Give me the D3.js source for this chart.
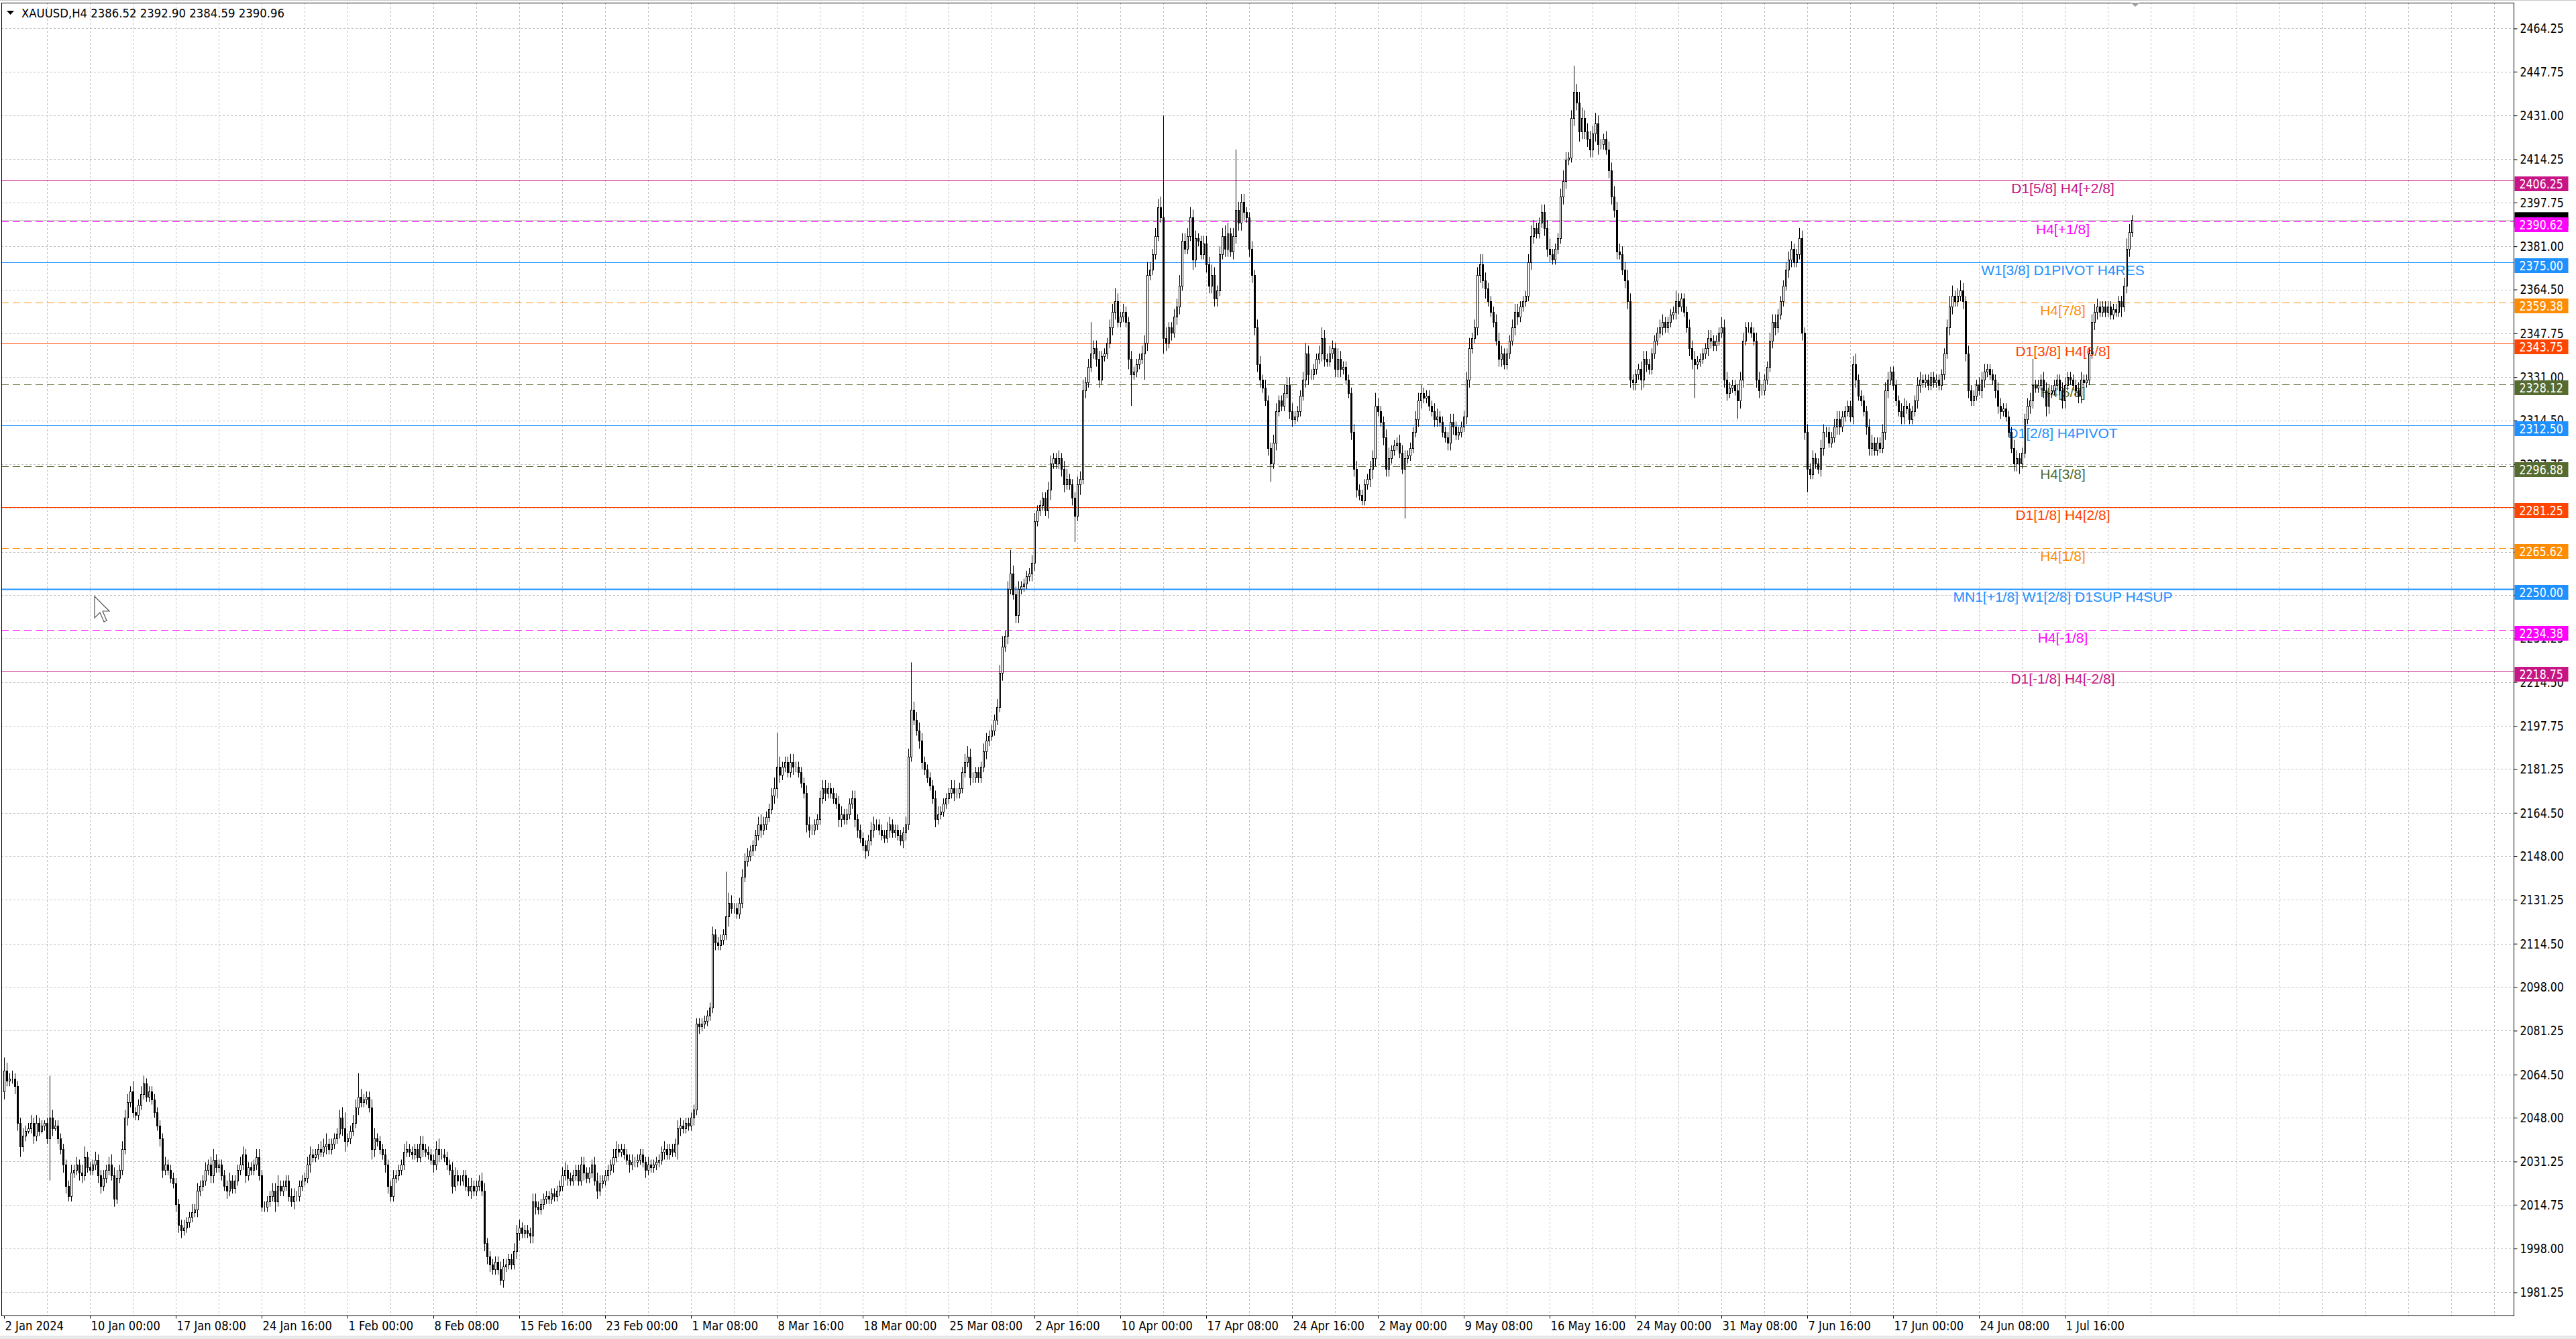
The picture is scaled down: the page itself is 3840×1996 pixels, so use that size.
<!DOCTYPE html>
<html>
<head>
<meta charset="utf-8">
<script src="https://cdn.jsdelivr.net/npm/d3@7"></script>
<style>
  html, body { margin: 0; padding: 0; background: #fff; overflow: hidden; }
  svg { display: block; }
</style>
</head>
<body>
<script>
// XAUUSD H4, 2 Jan 2024 16:00 .. 5 Jul 2024 20:00, one line per trading day
const firstOpen = 2058;
const closes = [
  2066, 2062,
  2063, 2063, 2060, 2046, 2037, 2041,
  2043, 2044, 2046, 2041, 2046, 2043,
  2045, 2046, 2040, 2048, 2044, 2045,
  2040, 2036, 2030, 2022, 2018, 2027,
  2028, 2030, 2027, 2026, 2033, 2029,
  2028, 2030, 2032, 2026, 2022, 2025,
  2028, 2030, 2026, 2017, 2025, 2028,
  2036, 2048, 2054, 2058, 2050, 2049,
  2053, 2057, 2061, 2056, 2058, 2055,
  2050, 2045, 2040, 2028, 2030, 2028,
  2025, 2023, 2015, 2007, 2005, 2006,
  2008, 2010, 2012, 2013, 2020, 2022,
  2024, 2028, 2030, 2026, 2032, 2029,
  2030, 2026, 2022, 2020, 2024, 2021,
  2024, 2028, 2030, 2034, 2026, 2029,
  2028, 2030, 2033, 2026, 2014, 2014,
  2016, 2018, 2020, 2016, 2022, 2020,
  2022, 2024, 2018, 2016, 2018, 2018,
  2022, 2024, 2025, 2030, 2034, 2033,
  2034, 2036, 2035, 2037, 2038, 2036,
  2038, 2040, 2042, 2048, 2044, 2039,
  2040, 2043, 2046, 2052, 2056, 2054,
  2055, 2056, 2052, 2036, 2040, 2039,
  2036, 2034, 2030, 2022, 2018, 2025,
  2026, 2028, 2030, 2035, 2036, 2035,
  2034, 2036, 2033, 2038, 2036, 2035,
  2034, 2032, 2030, 2036, 2034, 2034,
  2033, 2030, 2028, 2022, 2026, 2024,
  2024, 2026, 2022, 2020, 2022, 2020,
  2022, 2024, 2020, 2000, 1995, 1992,
  1990, 1993, 1990, 1986, 1991, 1992,
  1994, 1992, 1997, 2004, 2006, 2004,
  2005, 2004, 2003, 2016, 2014, 2013,
  2015, 2017, 2018, 2017, 2019, 2018,
  2020, 2022, 2026, 2028, 2025, 2024,
  2026, 2028, 2024, 2030, 2027, 2025,
  2027, 2030, 2024, 2020, 2023, 2024,
  2026, 2028, 2030, 2033, 2036, 2035,
  2036, 2034, 2032, 2030, 2031, 2031,
  2032, 2034, 2031, 2028, 2030, 2029,
  2030, 2031, 2032, 2035, 2036, 2034,
  2036, 2035, 2038, 2044, 2045, 2044,
  2046, 2045, 2048, 2051, 2084, 2083,
  2084, 2085, 2087, 2090, 2118, 2115,
  2114, 2116, 2118, 2125, 2130, 2128,
  2128, 2126, 2130, 2140, 2146, 2148,
  2150, 2152, 2156, 2160, 2158, 2160,
  2163, 2166, 2171, 2174, 2182, 2179,
  2182, 2184, 2180, 2184, 2182, 2182,
  2180, 2176, 2172, 2160, 2158, 2158,
  2160, 2162, 2170, 2174, 2172, 2174,
  2172, 2170, 2168, 2162, 2164, 2162,
  2164, 2168, 2170, 2162, 2158, 2155,
  2152, 2150, 2154, 2158, 2160, 2160,
  2158, 2156, 2155, 2158, 2160, 2157,
  2158, 2156, 2154, 2157, 2160, 2186,
  2204, 2200, 2196, 2192, 2184, 2181,
  2178, 2175, 2170, 2162, 2164, 2165,
  2168, 2170, 2172, 2174, 2172, 2172,
  2174, 2180, 2184, 2186, 2178, 2178,
  2180, 2178, 2182, 2188, 2192, 2194,
  2196, 2200, 2205, 2218, 2228, 2232,
  2250, 2256, 2248, 2240, 2250, 2251,
  2252, 2255, 2256, 2260, 2276, 2280,
  2282, 2285, 2280, 2288, 2298, 2300,
  2298, 2300, 2296, 2290, 2292, 2290,
  2285, 2278, 2290, 2292, 2326, 2329,
  2335, 2340, 2342, 2338, 2330, 2339,
  2340, 2344, 2350, 2356, 2360, 2352,
  2354, 2356, 2352, 2338, 2332, 2333,
  2336, 2338, 2340, 2344, 2370, 2372,
  2378, 2385, 2396, 2392, 2346, 2344,
  2350, 2348, 2354, 2358, 2366, 2383,
  2380, 2385, 2392, 2376, 2384, 2383,
  2378, 2382, 2374, 2366, 2370, 2361,
  2364, 2378, 2385, 2380, 2386, 2379,
  2385, 2395, 2390, 2398, 2394, 2392,
  2380, 2370, 2350, 2336, 2330, 2327,
  2322, 2304, 2298, 2306, 2318, 2322,
  2320, 2325, 2328, 2318, 2315, 2316,
  2318, 2324, 2330, 2340, 2332, 2332,
  2334, 2338, 2340, 2346, 2338, 2337,
  2340, 2342, 2334, 2338, 2334, 2335,
  2330, 2325, 2310, 2296, 2288, 2286,
  2284, 2290, 2292, 2296, 2300, 2320,
  2318, 2314, 2308, 2296, 2300, 2303,
  2305, 2306, 2302, 2296, 2300, 2301,
  2304, 2310, 2315, 2322, 2325, 2323,
  2324, 2320, 2318, 2315, 2316, 2314,
  2310, 2308, 2306, 2314, 2312, 2309,
  2310, 2312, 2316, 2330, 2342, 2346,
  2350, 2370, 2374, 2368, 2365, 2360,
  2356, 2352, 2345, 2338, 2340, 2336,
  2340, 2345, 2350, 2356, 2354, 2358,
  2360, 2362, 2375, 2385, 2388, 2386,
  2390, 2394, 2388, 2380, 2378, 2376,
  2380, 2384, 2400, 2406, 2414, 2415,
  2430, 2440, 2436, 2425, 2430, 2425,
  2422, 2418, 2424, 2428, 2420, 2420,
  2422, 2418, 2410, 2400, 2395, 2379,
  2378, 2372, 2368, 2360, 2330, 2329,
  2332, 2334, 2330, 2338, 2336, 2334,
  2340, 2345, 2348, 2350, 2352, 2350,
  2352, 2355, 2356, 2360, 2358, 2361,
  2356, 2350, 2342, 2338, 2336, 2337,
  2338, 2340, 2342, 2346, 2345, 2343,
  2345, 2348, 2350, 2330, 2325, 2327,
  2328, 2326, 2322, 2330, 2345, 2350,
  2350, 2348, 2345, 2330, 2326, 2326,
  2330, 2335, 2345, 2352, 2350, 2355,
  2360, 2366, 2372, 2376, 2380, 2375,
  2378, 2384, 2348, 2310, 2296, 2294,
  2300, 2298, 2296, 2304, 2310, 2310,
  2306, 2308, 2312, 2315, 2312, 2316,
  2318, 2320, 2316, 2336, 2330, 2324,
  2322, 2318, 2312, 2304, 2306, 2303,
  2306, 2304, 2310, 2326, 2330, 2333,
  2328, 2322, 2318, 2316, 2320, 2319,
  2315, 2318, 2322, 2328, 2330, 2329,
  2330, 2328, 2331, 2329, 2330, 2328,
  2332, 2340, 2350, 2358, 2362, 2360,
  2362, 2364, 2360, 2340, 2326, 2322,
  2324, 2328, 2326, 2330, 2333, 2334,
  2332, 2330, 2326, 2320, 2318, 2319,
  2316, 2310, 2304, 2298, 2300, 2298,
  2302, 2315, 2320, 2322, 2328, 2327,
  2328, 2330, 2326, 2320, 2325, 2326,
  2328, 2330, 2326, 2322, 2328, 2331,
  2330, 2328, 2326, 2324, 2330, 2329,
  2330, 2340, 2352, 2356, 2358, 2356,
  2358, 2356, 2358, 2355, 2357, 2356,
  2360, 2358, 2366, 2380, 2386.52, 2390.96
];
// wick above the body top, same order
const upperWicks = [
  5, 3,
  2, 3, 2, 2, 2, 3,
  2, 2, 3, 2, 3, 2,
  2, 1, 2, 16, 3, 2,
  2, 2, 2, 2, 2, 3,
  2, 3, 2, 3, 4, 2,
  2, 2, 3, 2, 2, 3,
  2, 3, 4, 3, 3, 2,
  3, 3, 3, 2, 4, 2,
  2, 3, 3, 2, 2, 2,
  2, 2, 2, 2, 3, 2,
  2, 2, 2, 2, 2, 3,
  2, 2, 3, 2, 3, 2,
  2, 3, 2, 3, 4, 2,
  2, 2, 2, 2, 3, 2,
  2, 2, 3, 3, 2, 2,
  2, 2, 3, 3, 2, 2,
  2, 2, 3, 3, 4, 2,
  2, 2, 2, 3, 3, 2,
  2, 2, 2, 3, 3, 2,
  2, 2, 3, 3, 4, 2,
  2, 2, 2, 3, 4, 6,
  2, 2, 3, 3, 9, 3,
  2, 2, 2, 3, 4, 2,
  2, 2, 2, 2, 2, 3,
  2, 2, 2, 3, 3, 2,
  2, 2, 2, 3, 3, 2,
  2, 2, 2, 3, 4, 2,
  2, 2, 2, 3, 3, 2,
  2, 2, 2, 3, 3, 2,
  2, 2, 3, 3, 2, 2,
  2, 2, 2, 3, 3, 2,
  2, 2, 3, 3, 3, 2,
  2, 2, 2, 3, 3, 2,
  2, 2, 2, 2, 2, 2,
  2, 2, 3, 3, 2, 2,
  2, 2, 2, 3, 3, 2,
  2, 2, 3, 3, 3, 2,
  2, 2, 2, 3, 3, 2,
  2, 2, 2, 2, 3, 2,
  2, 2, 2, 2, 3, 2,
  2, 2, 2, 2, 3, 2,
  2, 2, 2, 3, 3, 2,
  2, 2, 2, 2, 2, 2,
  2, 2, 2, 2, 3, 2,
  2, 2, 2, 17, 4, 3,
  2, 2, 2, 3, 3, 3,
  2, 2, 2, 3, 4, 3,
  2, 2, 3, 4, 13, 4,
  2, 2, 2, 3, 3, 2,
  2, 2, 2, 3, 3, 2,
  2, 2, 3, 3, 3, 2,
  2, 2, 2, 3, 3, 2,
  2, 2, 3, 3, 2, 2,
  2, 2, 2, 3, 3, 2,
  2, 2, 2, 3, 3, 2,
  2, 2, 2, 2, 3, 3,
  18, 3, 3, 3, 3, 2,
  2, 2, 2, 3, 3, 2,
  2, 2, 2, 3, 3, 2,
  2, 2, 3, 4, 3, 2,
  2, 2, 2, 3, 3, 2,
  2, 2, 3, 3, 4, 2,
  3, 9, 3, 3, 3, 2,
  2, 2, 2, 3, 3, 2,
  2, 2, 2, 3, 3, 2,
  2, 3, 2, 3, 4, 2,
  2, 2, 3, 3, 4, 2,
  3, 12, 3, 3, 3, 2,
  2, 2, 3, 3, 5, 3,
  2, 3, 2, 2, 3, 2,
  2, 2, 3, 3, 5, 3,
  2, 3, 3, 4, 39, 4,
  2, 2, 3, 3, 4, 3,
  3, 3, 4, 3, 3, 2,
  2, 3, 3, 3, 4, 3,
  2, 3, 3, 4, 4, 2,
  3, 23, 3, 3, 3, 2,
  2, 3, 2, 3, 3, 2,
  3, 2, 2, 3, 3, 2,
  2, 3, 3, 3, 3, 2,
  2, 2, 3, 4, 3, 2,
  2, 2, 3, 4, 3, 2,
  3, 3, 2, 4, 3, 2,
  2, 2, 2, 3, 3, 2,
  2, 2, 2, 3, 3, 5,
  3, 2, 2, 3, 4, 2,
  2, 2, 3, 3, 3, 2,
  2, 2, 3, 3, 3, 2,
  2, 2, 2, 3, 3, 2,
  2, 2, 2, 3, 3, 2,
  2, 2, 2, 3, 4, 2,
  3, 3, 4, 4, 3, 2,
  2, 2, 3, 3, 3, 2,
  2, 2, 3, 3, 3, 2,
  2, 2, 3, 4, 3, 2,
  2, 3, 3, 3, 4, 2,
  2, 2, 3, 4, 3, 2,
  3, 10, 3, 4, 4, 3,
  3, 3, 3, 4, 3, 2,
  2, 3, 3, 3, 4, 3,
  3, 3, 3, 4, 3, 2,
  2, 2, 3, 3, 3, 2,
  2, 2, 2, 3, 3, 2,
  2, 2, 2, 4, 3, 2,
  2, 2, 3, 3, 3, 2,
  2, 2, 2, 3, 3, 2,
  2, 2, 4, 3, 3, 2,
  2, 2, 2, 3, 3, 2,
  2, 2, 2, 3, 3, 2,
  2, 2, 3, 3, 3, 2,
  2, 2, 3, 3, 3, 2,
  2, 4, 3, 2, 3, 2,
  3, 2, 2, 3, 3, 2,
  2, 2, 3, 3, 3, 2,
  2, 2, 2, 3, 4, 2,
  2, 2, 2, 3, 3, 2,
  2, 2, 3, 3, 3, 2,
  2, 2, 2, 3, 3, 2,
  2, 2, 2, 3, 3, 2,
  2, 2, 2, 2, 2, 2,
  2, 2, 3, 4, 4, 2,
  3, 4, 3, 2, 3, 2,
  2, 2, 3, 3, 3, 2,
  2, 2, 2, 3, 3, 2,
  2, 2, 2, 3, 3, 2,
  2, 2, 3, 3, 10, 2,
  2, 2, 3, 3, 3, 2,
  2, 2, 2, 3, 3, 2,
  2, 2, 2, 3, 3, 2,
  2, 2, 3, 3, 3, 2,
  2, 2, 2, 2, 2, 2,
  2, 2, 3, 4, 3, 1.94
];
// wick below the body bottom, same order
const lowerWicks = [
  3, 2,
  2, 2, 3, 3, 4, 2,
  2, 1, 2, 3, 2, 2,
  1, 2, 2, 16, 3, 1,
  2, 2, 3, 3, 2, 2,
  2, 2, 3, 3, 2, 2,
  2, 2, 2, 3, 3, 2,
  2, 2, 2, 3, 2, 2,
  2, 2, 3, 2, 2, 2,
  2, 2, 2, 2, 2, 2,
  2, 2, 3, 3, 2, 2,
  2, 2, 3, 3, 3, 2,
  2, 2, 2, 2, 3, 2,
  2, 2, 2, 3, 3, 2,
  2, 2, 2, 3, 2, 2,
  2, 2, 2, 2, 3, 2,
  2, 2, 2, 2, 2, 2,
  2, 2, 2, 4, 2, 2,
  2, 2, 2, 2, 3, 2,
  2, 2, 2, 2, 3, 2,
  2, 2, 2, 2, 3, 2,
  2, 2, 2, 2, 3, 4,
  2, 2, 2, 2, 3, 2,
  2, 2, 2, 4, 3, 2,
  2, 2, 3, 3, 2, 2,
  2, 2, 2, 2, 2, 2,
  2, 2, 2, 2, 3, 2,
  2, 2, 3, 2, 3, 2,
  2, 2, 2, 3, 2, 2,
  2, 2, 2, 2, 3, 2,
  2, 2, 2, 3, 3, 3,
  2, 2, 2, 2, 3, 2,
  2, 2, 2, 3, 3, 2,
  2, 2, 3, 3, 3, 2,
  2, 2, 2, 2, 2, 2,
  2, 2, 2, 2, 3, 2,
  2, 2, 2, 2, 3, 2,
  2, 2, 2, 3, 2, 2,
  2, 2, 2, 3, 2, 2,
  2, 2, 2, 3, 2, 2,
  2, 2, 2, 3, 2, 2,
  2, 2, 2, 2, 3, 2,
  2, 2, 2, 6, 3, 2,
  2, 2, 2, 3, 2, 3,
  2, 2, 2, 2, 2, 3,
  2, 2, 2, 2, 4, 2,
  2, 2, 2, 2, 2, 2,
  2, 2, 2, 2, 3, 2,
  2, 2, 2, 3, 4, 3,
  2, 2, 2, 2, 3, 2,
  2, 2, 2, 3, 3, 2,
  2, 2, 2, 2, 3, 2,
  2, 2, 2, 3, 3, 2,
  2, 2, 2, 3, 3, 2,
  2, 3, 2, 2, 3, 2,
  2, 2, 2, 2, 3, 2,
  2, 2, 2, 3, 3, 2,
  2, 2, 2, 3, 3, 2,
  2, 2, 2, 3, 2, 2,
  2, 2, 2, 2, 3, 2,
  2, 2, 2, 2, 3, 2,
  2, 2, 2, 2, 3, 2,
  2, 2, 2, 2, 3, 2,
  3, 2, 2, 3, 3, 2,
  2, 2, 2, 3, 3, 2,
  2, 2, 2, 3, 4, 2,
  2, 2, 3, 3, 2, 2,
  3, 10, 2, 4, 2, 3,
  2, 2, 2, 3, 3, 2,
  2, 2, 2, 3, 3, 2,
  2, 2, 2, 4, 12, 2,
  2, 2, 2, 10, 3, 2,
  2, 2, 2, 2, 6, 3,
  2, 3, 2, 3, 3, 2,
  2, 2, 2, 4, 3, 2,
  2, 2, 3, 3, 3, 3,
  3, 2, 2, 3, 3, 2,
  3, 3, 3, 3, 3, 2,
  3, 3, 3, 3, 3, 2,
  2, 3, 7, 2, 3, 2,
  2, 2, 2, 3, 3, 2,
  2, 2, 2, 3, 4, 2,
  2, 2, 2, 3, 3, 2,
  2, 2, 3, 3, 3, 2,
  2, 2, 3, 3, 3, 2,
  2, 2, 2, 3, 4, 3,
  2, 2, 3, 3, 3, 2,
  2, 2, 2, 2, 19, 2,
  2, 2, 2, 3, 3, 2,
  2, 2, 2, 3, 3, 2,
  2, 2, 3, 3, 3, 2,
  2, 2, 2, 3, 3, 2,
  2, 3, 3, 3, 4, 2,
  2, 2, 2, 3, 3, 2,
  2, 2, 2, 3, 3, 2,
  2, 2, 2, 3, 3, 2,
  2, 2, 3, 3, 3, 2,
  2, 2, 2, 3, 3, 2,
  2, 3, 3, 4, 3, 3,
  3, 3, 3, 3, 4, 2,
  2, 2, 3, 3, 3, 3,
  2, 2, 3, 3, 3, 3,
  3, 2, 4, 3, 3, 2,
  2, 2, 2, 2, 3, 2,
  2, 2, 2, 3, 3, 2,
  2, 2, 3, 4, 13, 2,
  2, 2, 2, 3, 3, 2,
  2, 2, 2, 3, 3, 2,
  2, 2, 7, 3, 3, 2,
  2, 2, 2, 3, 3, 2,
  2, 2, 2, 3, 3, 2,
  2, 2, 2, 3, 3, 2,
  2, 2, 3, 3, 9, 2,
  2, 2, 2, 3, 3, 2,
  2, 2, 2, 3, 3, 2,
  2, 2, 2, 3, 3, 2,
  2, 2, 3, 3, 3, 2,
  2, 2, 2, 3, 3, 2,
  2, 2, 2, 3, 3, 2,
  2, 2, 2, 3, 3, 2,
  2, 2, 2, 2, 2, 2,
  2, 2, 2, 3, 3, 2,
  2, 2, 3, 3, 3, 2,
  2, 2, 2, 3, 3, 2,
  2, 2, 3, 3, 3, 2,
  2, 2, 2, 3, 3, 4,
  2, 2, 2, 3, 3, 2,
  2, 2, 3, 4, 3, 2,
  2, 2, 2, 3, 3, 2,
  2, 2, 2, 3, 3, 2,
  2, 2, 2, 3, 3, 2,
  2, 2, 2, 2, 2, 2,
  2, 4, 2, 3, 3, 1.93
];

const priceTicks = [2464.25, 2447.75, 2431.00, 2414.25, 2397.75, 2381.00, 2364.50, 2347.75,
  2331.00, 2314.50, 2297.75, 2281.00, 2264.25, 2247.75, 2231.25, 2214.50, 2197.75, 2181.25,
  2164.50, 2148.00, 2131.25, 2114.50, 2098.00, 2081.25, 2064.50, 2048.00, 2031.25, 2014.75,
  1998.00, 1981.25];

const timeLabels = ['2 Jan 2024', '10 Jan 00:00', '17 Jan 08:00', '24 Jan 16:00', '1 Feb 00:00',
  '8 Feb 08:00', '15 Feb 16:00', '23 Feb 00:00', '1 Mar 08:00', '8 Mar 16:00', '18 Mar 00:00',
  '25 Mar 08:00', '2 Apr 16:00', '10 Apr 00:00', '17 Apr 08:00', '24 Apr 16:00', '2 May 00:00',
  '9 May 08:00', '16 May 16:00', '24 May 00:00', '31 May 08:00', '7 Jun 16:00', '17 Jun 00:00',
  '24 Jun 08:00', '1 Jul 16:00'];
const barsPerLabel = 32;

const levelPrices = [2406.25, 2390.62, 2375.00, 2359.38, 2343.75, 2328.12, 2312.50,
  2296.88, 2281.25, 2265.62, 2250.00, 2234.38, 2218.75];
const levelLabels = ['D1[5/8] H4[+2/8]', 'H4[+1/8]', 'W1[3/8] D1PIVOT H4RES', 'H4[7/8]',
  'D1[3/8] H4[6/8]', 'H4[5/8]', 'D1[2/8] H4PIVOT', 'H4[3/8]', 'D1[1/8] H4[2/8]', 'H4[1/8]',
  'MN1[+1/8] W1[2/8] D1SUP H4SUP', 'H4[-1/8]', 'D1[-1/8] H4[-2/8]'];
const bidPrice = 2390.96;
const header = 'XAUUSD,H4  2386.52 2392.90 2384.59 2390.96';

// styles
const levelColors = ['#C71585', '#FF00FF', '#1E90FF', '#FF8C00', '#FF4500', '#556B2F', '#1E90FF',
  '#556B2F', '#FF4500', '#FF8C00', '#1E90FF', '#FF00FF', '#C71585'];
const levelDashed = [false, true, false, true, false, true, false, true, false, true, false, true, false];
const levelWidth = [1, 1, 1, 1, 1, 1, 1, 1, 1, 1, 2, 1, 1];

const W = 3840, H = 1996;
const plot = {left: 2, top: 4, right: 3747, bottom: 1961};

const svg = d3.select('body').append('svg')
  .attr('width', W).attr('height', H)
  .style('font-family', '"DejaVu Sans", sans-serif');

const y = d3.scaleLinear().domain([1972.4, 2474.1]).range([plot.bottom, plot.top]);
const x = d3.scaleLinear().domain([0, 1]).range([6, 10]);
const px = v => Math.round(v) + 0.5;

const bars = closes.map((c, i) => {
  const o = i ? closes[i - 1] : firstOpen;
  return {i, o, c, h: Math.max(o, c) + upperWicks[i], l: Math.min(o, c) - lowerWicks[i]};
});

svg.append('rect').attr('width', W).attr('height', H).attr('fill', '#fff');
svg.append('line').attr('x1', 0).attr('x2', W).attr('y1', 0.5).attr('y2', 0.5).attr('stroke', '#c8c8c8');
svg.append('rect').attr('x', 0).attr('y', 1991).attr('width', W).attr('height', 5).attr('fill', '#e8e8e8');

svg.append('defs').append('clipPath').attr('id', 'clip')
  .append('rect').attr('x', plot.left).attr('y', plot.top)
  .attr('width', plot.right - plot.left).attr('height', plot.bottom - plot.top);

const inner = svg.append('g').attr('clip-path', 'url(#clip)');

// grid
const lastGridBar = Math.floor(x.invert(plot.right));
inner.append('g').selectAll('line').data(d3.range(16, lastGridBar + 1, 16)).join('line')
  .attr('x1', d => px(x(d))).attr('x2', d => px(x(d)))
  .attr('y1', plot.top).attr('y2', plot.bottom)
  .attr('stroke', '#c0c0c0').attr('stroke-dasharray', '3,3');
inner.append('g').selectAll('line').data(priceTicks).join('line')
  .attr('x1', plot.left).attr('x2', plot.right)
  .attr('y1', d => px(y(d))).attr('y2', d => px(y(d)))
  .attr('stroke', '#c0c0c0').attr('stroke-dasharray', '3,3');

// bid line
inner.append('line').attr('x1', plot.left).attr('x2', plot.right)
  .attr('y1', px(y(bidPrice))).attr('y2', px(y(bidPrice))).attr('stroke', '#c0c0c0');

// level lines + captions
inner.append('g').selectAll('line').data(levelPrices).join('line')
  .attr('x1', plot.left).attr('x2', plot.right)
  .attr('y1', d => px(y(d))).attr('y2', d => px(y(d)))
  .attr('stroke', (d, k) => levelColors[k])
  .attr('stroke-width', (d, k) => levelWidth[k])
  .attr('stroke-dasharray', (d, k) => levelDashed[k] ? '11,6' : null);

inner.append('g').selectAll('text').data(levelPrices).join('text')
  .attr('x', 3075).attr('y', d => y(d) + 19)
  .attr('text-anchor', 'middle')
  .style('font-family', '"Liberation Sans", Arial, sans-serif')
  .attr('font-size', 21)
  .attr('fill', (d, k) => levelColors[k])
  .text((d, k) => levelLabels[k]);

// candles
const cg = inner.append('g');
cg.selectAll('line').data(bars).join('line')
  .attr('x1', d => px(x(d.i))).attr('x2', d => px(x(d.i)))
  .attr('y1', d => y(d.h)).attr('y2', d => y(d.l))
  .attr('stroke', '#000');
cg.selectAll('rect').data(bars).join('rect')
  .attr('x', d => Math.round(x(d.i)) - 0.5)
  .attr('y', d => px(y(Math.max(d.o, d.c))))
  .attr('width', 2)
  .attr('height', d => Math.max(0, Math.round(y(Math.min(d.o, d.c))) - Math.round(y(Math.max(d.o, d.c)))))
  .attr('fill', d => d.c >= d.o ? '#fff' : '#000')
  .attr('stroke', '#000');

// frame
svg.append('rect').attr('x', plot.left + 0.5).attr('y', plot.top + 0.5)
  .attr('width', plot.right - plot.left).attr('height', plot.bottom - plot.top)
  .attr('fill', 'none').attr('stroke', '#000');

// right price axis
const yAxis = svg.append('g').attr('transform', `translate(${plot.right + 0.5},0)`)
  .call(d3.axisRight(y).tickValues(priceTicks).tickFormat(d3.format('.2f')).tickSize(5));
yAxis.select('.domain').remove();
yAxis.selectAll('.tick line').attr('stroke', '#000');
yAxis.selectAll('.tick text')
  .attr('font-family', '"DejaVu Sans", sans-serif').attr('font-size', 20)
  .attr('fill', '#000')
  .attr('x', 9 / 0.79).attr('transform', 'scale(0.79,1)');

// bottom time axis
const xAxis = svg.append('g').attr('transform', `translate(0,${plot.bottom + 0.5})`)
  .call(d3.axisBottom(x)
    .tickValues(timeLabels.map((t, k) => k * barsPerLabel))
    .tickFormat((d, k) => timeLabels[k]).tickSize(4));
xAxis.select('.domain').remove();
xAxis.selectAll('.tick line').attr('stroke', '#000');
xAxis.selectAll('.tick text')
  .attr('font-family', '"DejaVu Sans", sans-serif').attr('font-size', 19)
  .attr('fill', '#000').attr('text-anchor', 'start')
  .attr('y', 8).attr('dy', '0.71em')
  .attr('x', 1 / 0.86).attr('transform', 'scale(0.86,1)');

// price boxes on the axis
const boxX = plot.right + 1.5, boxW = 80, boxH = 22;
svg.append('rect').attr('x', boxX).attr('y', y(bidPrice) - 12).attr('width', boxW).attr('height', boxH).attr('fill', '#000');
const boxes = svg.append('g').selectAll('g').data(levelPrices).join('g')
  .attr('transform', d => `translate(${boxX},${Math.round(y(d)) - 6})`);
boxes.append('rect').attr('width', boxW).attr('height', boxH).attr('fill', (d, k) => levelColors[k]);
boxes.append('text')
  .attr('transform', 'scale(0.79,1)')
  .attr('x', 7 / 0.79).attr('y', boxH / 2).attr('dy', '0.36em')
  .attr('font-size', 20).attr('fill', '#fff')
  .text(d => d3.format('.2f')(d));

// header
svg.append('path').attr('d', 'M10,16 L21,16 L15.5,22 Z').attr('fill', '#000');
svg.append('text').attr('x', 32).attr('y', 26)
  .attr('font-size', 18).attr('fill', '#000')
  .attr('textLength', 392).attr('lengthAdjust', 'spacingAndGlyphs')
  .text(header);

// chart shift marker
svg.append('path').attr('d', 'M3176,4 L3190,4 L3183,10 Z').attr('fill', '#a0a0a0');

// mouse pointer
svg.append('path')
  .attr('d', 'M0,0 L0,16 L4,12 L7,19 L9,18 L6,11 L11,11 Z')
  .attr('transform', 'translate(141,889) scale(2)')
  .attr('fill', '#fff').attr('stroke', '#555').attr('stroke-width', 0.6);
</script>
</body>
</html>
